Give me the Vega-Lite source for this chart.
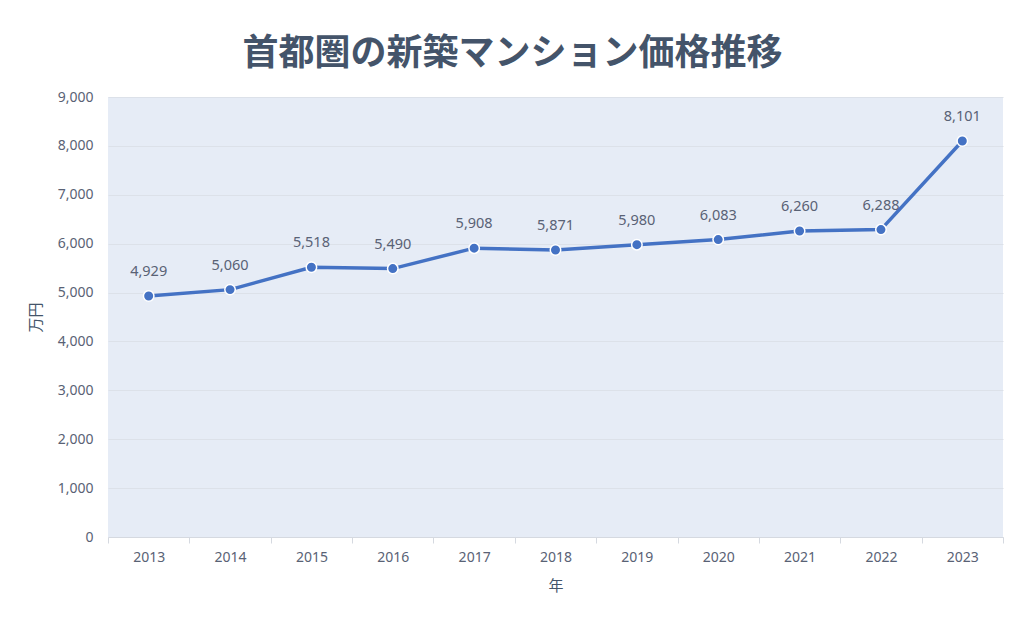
{
  "$schema": "https://vega.github.io/schema/vega-lite/v6.json",
  "autosize": "none",
  "width": 895,
  "height": 440,
  "padding": {"left": 108, "top": 97, "right": 21, "bottom": 87},
  "background": "white",
  "title": {
    "text": "首都圏の新築マンション価格推移",
    "font": "Noto Sans CJK JP",
    "fontSize": 36,
    "fontWeight": "bold",
    "color": "#44546A",
    "anchor": "middle",
    "dx": -43,
    "offset": 17
  },
  "config": {
    "view": {"fill": "#E6ECF6", "stroke": null},
    "font": "Noto Sans"
  },
  "data": {
    "values": [
      {"year": "2013", "price": 4929},
      {"year": "2014", "price": 5060},
      {"year": "2015", "price": 5518},
      {"year": "2016", "price": 5490},
      {"year": "2017", "price": 5908},
      {"year": "2018", "price": 5871},
      {"year": "2019", "price": 5980},
      {"year": "2020", "price": 6083},
      {"year": "2021", "price": 6260},
      {"year": "2022", "price": 6288},
      {"year": "2023", "price": 8101}
    ]
  },
  "encoding": {
    "x": {
      "field": "year",
      "type": "ordinal",
      "title": "年",
      "scale": {"paddingInner": 0, "paddingOuter": 0},
      "axis": {
        "labelAngle": 0,
        "labelFontSize": 14,
        "labelColor": "#596275",
        "labelPadding": 7,
        "tickBand": "extent",
        "tickColor": "#D5D9E0",
        "tickSize": 6,
        "domainColor": "#D5D9E0",
        "titleFont": "Noto Sans CJK JP",
        "titleFontSize": 15,
        "titleFontWeight": "normal",
        "titleColor": "#44546A",
        "titlePadding": 14
      }
    },
    "y": {
      "field": "price",
      "type": "quantitative",
      "title": "万円",
      "scale": {"domain": [0, 9000]},
      "axis": {
        "tickCount": 9,
        "format": ",d",
        "labelFontSize": 14,
        "labelColor": "#596275",
        "labelPadding": 15,
        "ticks": false,
        "domain": false,
        "gridColor": "#DCE1E9",
        "gridWidth": 1,
        "titleFont": "Noto Sans CJK JP",
        "titleFontSize": 15,
        "titleFontWeight": "normal",
        "titleColor": "#44546A",
        "titlePadding": 14
      }
    }
  },
  "layer": [
    {"mark": {"type": "line", "color": "#4472C4", "strokeWidth": 3.5}},
    {"mark": {"type": "point", "filled": true, "color": "#4472C4", "stroke": "white", "strokeWidth": 1.5, "size": 110, "opacity": 1}},
    {
      "mark": {"type": "text", "dy": -24, "fontSize": 14.5, "color": "#596275"},
      "encoding": {"text": {"field": "price", "type": "quantitative", "format": ","}}
    }
  ]
}
